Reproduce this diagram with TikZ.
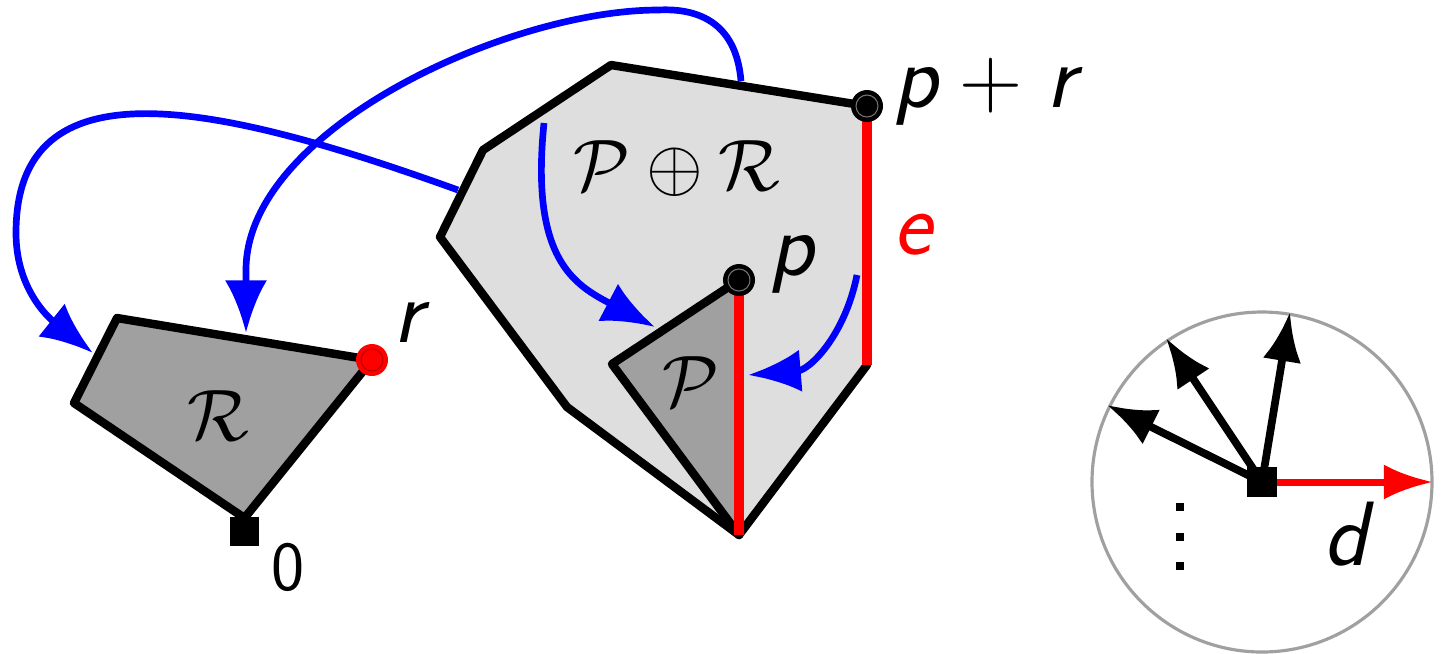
\documentclass[tikz,border=0pt]{standalone}
\usetikzlibrary{arrows.meta}
\definecolor{lightfill}{HTML}{DEDEDE}
\definecolor{darkfill}{HTML}{A0A0A0}
\definecolor{ringgray}{HTML}{A0A0A0}
\begin{document}
\begin{tikzpicture}[x=0.01cm,y=-0.01cm,
  poly/.style={draw=black,line width=2.4pt,line join=round},
  redge/.style={draw=red,line width=2.7pt},
  bluearc/.style={draw=blue,line width=1.9pt,-{Latex[length=15pt,width=12pt]}},
  vecarrow/.style={draw=black,line width=2.2pt,-{Latex[length=14pt,width=11pt]}},
  lbl/.style={inner sep=0pt,font=\fontsize{26}{30}\selectfont\sffamily\itshape},
  cal/.style={inner sep=0pt,font=\fontsize{22}{26}\selectfont},
  sqmark/.style={fill=black,draw=none,minimum size=8.4pt,inner sep=0pt,rectangle},
  vdot/.style={rectangle,fill=black,minimum size=2.1pt,inner sep=0pt},
]
\useasboundingbox (0,0) rectangle (1442,653);

% ---- coordinates
\coordinate (r1) at (117,318);
\coordinate (rr) at (372,360);
\coordinate (r0) at (244.5,518);
\coordinate (r3) at (74,403);

\coordinate (m1) at (611,65);
\coordinate (mpr) at (867,106);
\coordinate (m3) at (867,365);
\coordinate (m4) at (739,535);
\coordinate (m5) at (567,407);
\coordinate (m6) at (440,237);
\coordinate (m7) at (483,150);

\coordinate (pp) at (739,280);
\coordinate (p2) at (612,364);

% ---- polygon R
\draw[poly,fill=darkfill] (r1) -- (rr) -- (r0) -- (r3) -- cycle;

% ---- polygon P+R
\draw[poly,fill=lightfill] (m1) -- (mpr) -- (m3) -- (m4) -- (m5) -- (m6) -- (m7) -- cycle;
\draw[redge] (mpr) -- (m3);

% ---- polygon P
\draw[poly,fill=darkfill] (pp) -- (p2) -- (m4) -- cycle;
\draw[redge] (pp) -- (m4);

% ---- blue arcs
\coordinate (b1s) at (458,190);
\coordinate (b1e) at (93,353);
\draw[bluearc] (b1s) .. controls (214,102) and (16,60) .. (16,233)
  .. controls (16,293) and (54,322) .. (b1e);
\coordinate (b2s) at (741,81);
\coordinate (b2e) at (246,333);
\draw[bluearc] (b2s) .. controls (736,20) and (695,8) .. (658,10)
  .. controls (508,10) and (246,130) .. (246,270) -- (b2e);
\coordinate (b3s) at (544,123);
\coordinate (b3e) at (655,327);
\draw[bluearc] (b3s) .. controls (530,260) and (575,285) .. (b3e);
\coordinate (b4s) at (857,275);
\coordinate (b4e) at (748,375);
\draw[bluearc] (b4s) .. controls (845,335) and (810,370) .. (b4e);

% ---- dots
\fill[red] (rr) circle (16);
\draw[red!75!black,line width=0.3pt] (rr) circle (11);
\fill[black] (mpr) circle (16);
\draw[black!55,line width=0.3pt] (mpr) circle (11);
\fill[black] (pp) circle (16);
\draw[black!55,line width=0.3pt] (pp) circle (11);
\node[sqmark] (origin) at (244.5,531.5) {};

% ---- labels
\node[lbl,anchor=base west] (lpr) at (893,107) {p\hspace{6pt}$+$\hspace{7pt}r};
\node[lbl,anchor=base west] (lp) at (769,275) {p};
\node[lbl,anchor=base west] (lr) at (393,342) {r};
\node[lbl,anchor=base west,text=red] (le) at (893,254) {e};
\node[inner sep=0pt,anchor=base west,font=\fontsize{20}{24}\selectfont\sffamily] (l0) at (271,590) {0};
\node[cal,anchor=base] (lPR) at (677,190) {$\mathcal{P}\oplus\mathcal{R}$};
\node[cal,anchor=base] (lP) at (691,406) {$\mathcal{P}$};
\node[cal,anchor=base] (lR) at (218,440) {$\mathcal{R}$};

% ---- direction circle
\coordinate (cc) at (1262,482);
\draw[ringgray,line width=0.9pt] (cc) circle (170);
\coordinate (t1) at (1107,405);
\coordinate (t2) at (1166,338);
\coordinate (t3) at (1290,312);
\coordinate (td) at (1433,482);
\draw[vecarrow] (cc) -- (t1);
\draw[vecarrow] (cc) -- (t2);
\draw[vecarrow] (cc) -- (t3);
\draw[draw=red,line width=2pt,-{Latex[length=14pt,width=10pt]}] (cc) -- (td);
\node[sqmark] (csq) at (cc) {};
\node[lbl,anchor=base west] (ld) at (1323,565) {d};
\node[vdot] (v1) at (1180,507) {};
\node[vdot] (v2) at (1180,537) {};
\node[vdot] (v3) at (1180,566) {};
\end{tikzpicture}
\end{document}
